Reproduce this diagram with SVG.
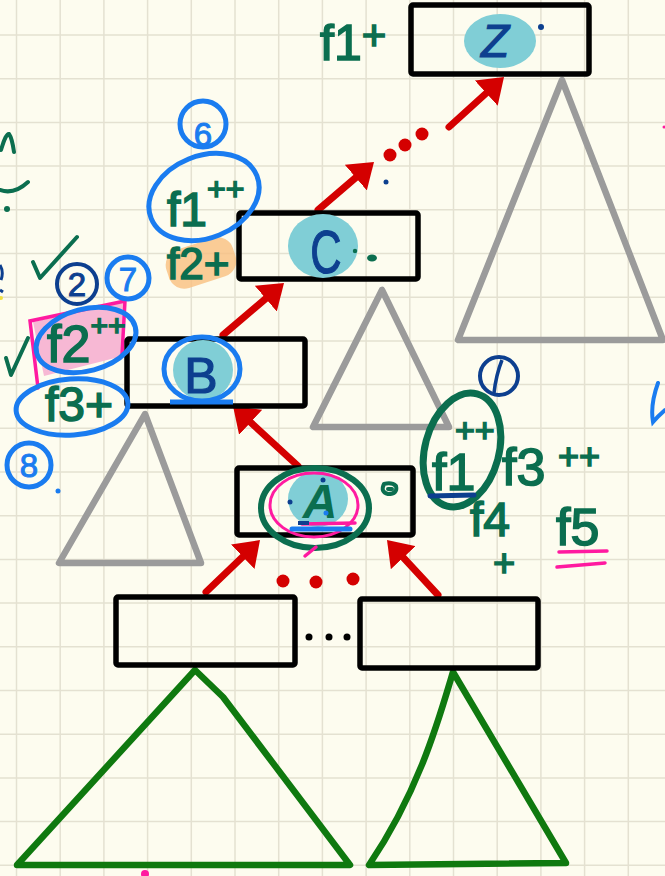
<svg xmlns="http://www.w3.org/2000/svg" width="665" height="876" viewBox="0 0 665 876">
<style>
.grid{stroke:#e4e1d1;stroke-width:1.5;fill:none}
.box{fill:none;stroke:#000;stroke-width:5.5;stroke-linejoin:round}
.gray{fill:none;stroke:#9b9b9b;stroke-width:6.5;stroke-linejoin:round}
.green{fill:none;stroke:#0f790f;stroke-width:6.5;stroke-linejoin:round}
.blob{fill:#80ced6}
.arrow{stroke:#d40000;stroke-width:7;stroke-linecap:round;fill:none}
.rdot{fill:#d40000}
.hw{font-family:"Liberation Sans",Arial,sans-serif;fill:#0b6e4f;stroke:#0b6e4f;stroke-width:1.6}
.letter{font-family:"Liberation Sans",Arial,sans-serif;fill:#0d3f8f;stroke:#0d3f8f;stroke-width:1.2;text-anchor:middle}
.bl{fill:none;stroke:#1a7cf0;stroke-width:5}
.dbl{fill:none;stroke:#0d3f8f;stroke-width:4}
.num{font-family:"Liberation Sans",Arial,sans-serif;font-size:33px;text-anchor:middle;stroke-width:1}
.gs{fill:none;stroke:#0b6e4f;stroke-width:4;stroke-linecap:round;stroke-linejoin:round}
.pk{fill:none;stroke:#ff1aa0;stroke-width:3.5;stroke-linecap:round}
</style>
<defs>
<marker id="ah" markerUnits="userSpaceOnUse" viewBox="0 0 24 34" refX="4" refY="17" markerWidth="24" markerHeight="34" orient="auto">
<path d="M0,0 L24,17 L0,34 Z" fill="#d40000"/>
</marker>
</defs>
<rect width="665" height="876" fill="#fdfcef"/>
<path class="grid" d="M16.5,0V876M60.2,0V876M103.9,0V876M147.6,0V876M191.3,0V876M235,0V876M278.7,0V876M322.4,0V876M366.1,0V876M409.8,0V876M453.5,0V876M497.2,0V876M540.9,0V876M584.6,0V876M628.3,0V876M0,35H665M0,78.7H665M0,122.4H665M0,166.1H665M0,209.8H665M0,253.5H665M0,297.2H665M0,340.9H665M0,384.6H665M0,428.3H665M0,472H665M0,515.7H665M0,559.4H665M0,603.1H665M0,646.8H665M0,690.5H665M0,734.2H665M0,777.9H665M0,821.6H665M0,865.3H665"/>

<!-- subtrees -->
<g id="subtree-Z"><path class="gray" d="M562,80 L458,340 L663,340 Z"/></g>
<g id="subtree-C"><path class="gray" d="M382,290 L313,427 L449,427 Z"/></g>
<g id="subtree-B"><path class="gray" d="M145,414 L59,563 L201,563 Z"/></g>
<g id="subtree-leaf1"><path class="green" d="M195,670 L223,697 L350,865 L17,865 Z"/></g>
<g id="subtree-leaf2"><path class="green" d="M453,672 C440,715 420,790 369,865 L566,863 Z"/></g>

<!-- highlights behind -->
<rect x="166" y="243" width="70" height="40" rx="16" transform="rotate(-18 201 263)" fill="#f9bf80" opacity="0.8"/>
<path d="M33,322 L125,302 L123,356 L44,376 Z" fill="#f7b8d4"/>
<path class="pk" d="M38,388 L30,321 L125,301 L122,355"/>

<!-- connectors -->
<g id="connectors">
<line class="arrow" x1="223" y1="335" x2="268.8" y2="296" marker-end="url(#ah)"/>
<line class="arrow" x1="318" y1="210" x2="358.8" y2="175" marker-end="url(#ah)"/>
<line class="arrow" x1="449" y1="127" x2="489.2" y2="90.5" marker-end="url(#ah)"/>
<line class="arrow" x1="206" y1="592" x2="245.6" y2="553.9" marker-end="url(#ah)"/>
<line class="arrow" x1="438" y1="595" x2="400.6" y2="554.7" marker-end="url(#ah)"/>
<line class="arrow" x1="298" y1="466" x2="247.7" y2="419.6" marker-end="url(#ah)"/>
<circle class="rdot" cx="390" cy="155" r="6.5"/>
<circle class="rdot" cx="405" cy="145" r="6.5"/>
<circle class="rdot" cx="422" cy="134" r="6.5"/>
<circle class="rdot" cx="283" cy="581" r="6.5"/>
<circle class="rdot" cx="316" cy="582" r="6.5"/>
<circle class="rdot" cx="353" cy="579" r="6.5"/>
<circle cx="309" cy="637" r="3.5"/>
<circle cx="329" cy="637" r="3.5"/>
<circle cx="347" cy="637" r="3.5"/>
</g>

<!-- nodes -->
<g id="node-Z">
<rect class="box" x="411" y="5" width="178" height="69" rx="2"/>
<ellipse class="blob" cx="500" cy="41" rx="36" ry="27"/>
<text class="letter" x="495" y="57" font-size="46" font-style="italic">Z</text>
<circle cx="541" cy="27" r="3" fill="#0d3f8f"/>
</g>
<g id="node-C">
<rect class="box" x="239" y="213" width="179" height="66" rx="2"/>
<ellipse class="blob" cx="323" cy="246" rx="35" ry="32"/>
<text class="letter" font-size="62" transform="translate(326 273) scale(0.7 1)">C</text>
<circle cx="355" cy="251" r="2.2" fill="#0b6e4f"/>
<ellipse cx="372" cy="258" rx="5" ry="3.5" fill="#0b6e4f"/>
</g>
<g id="node-B">
<rect class="box" x="127" y="339" width="178" height="67" rx="2"/>
<ellipse class="blob" cx="203" cy="370" rx="30" ry="30"/>
<ellipse class="bl" cx="202" cy="369" rx="38" ry="32"/>
<line class="bl" x1="170" y1="402" x2="233" y2="402" stroke-width="6"/>
<text class="letter" x="201" y="393" font-size="50">B</text>
</g>
<g id="node-A">
<rect class="box" x="237" y="468" width="176" height="67" rx="2"/>
<ellipse class="blob" cx="318" cy="499" rx="30" ry="28"/>
<ellipse cx="314" cy="505" rx="44" ry="32" fill="none" stroke="#ff1aa0" stroke-width="3"/>
<line class="pk" x1="302" y1="524" x2="355" y2="523"/>
<line class="bl" x1="292" y1="529" x2="350" y2="529" stroke-width="6" stroke-linecap="round"/>
<line x1="298" y1="523" x2="309" y2="523" stroke="#0d3f8f" stroke-width="4"/>
<text x="320" y="518" font-family="Liberation Sans, Arial, sans-serif" font-size="48" font-weight="bold" font-style="italic" fill="#0b6e4f" text-anchor="middle">A</text>
<ellipse cx="315" cy="508" rx="54" ry="40" fill="none" stroke="#0b6e4f" stroke-width="6"/>
<line class="pk" x1="305" y1="556" x2="316" y2="547"/>
<circle cx="323" cy="480" r="2.5" fill="#0d3f8f"/>
<circle cx="290" cy="502" r="2.5" fill="#0d3f8f"/>
<circle cx="326" cy="513" r="2.5" fill="#1a7cf0"/>
<path class="gs" d="M384,484 Q380,492 388,494 Q398,494 396,486 Q392,482 384,484 M388,489 L392,489" stroke-width="3.5"/>
</g>
<g id="node-leaf1"><rect class="box" x="116" y="597" width="179" height="68" rx="2"/></g>
<g id="node-leaf2"><rect class="box" x="360" y="599" width="178" height="69" rx="2"/></g>

<!-- annotations -->
<text class="hw" x="320" y="60" font-size="50">f1<tspan font-size="42" dy="-10">+</tspan></text>

<circle class="bl" cx="203" cy="124" r="23"/>
<text class="num" x="203" y="146" fill="#1a7cf0" stroke="#1a7cf0">6</text>
<ellipse class="bl" cx="204" cy="197" rx="57" ry="41" transform="rotate(-22 204 197)"/>
<text class="hw" x="167" y="226" font-size="48">f1<tspan font-size="32" dy="-26">++</tspan></text>
<text class="hw" x="167" y="279" font-size="44">f2+</text>

<path class="gs" d="M33,262 L40,278 L77,237"/>
<circle class="dbl" cx="77" cy="284" r="20"/>
<text class="num" x="77" y="296" fill="#0d3f8f" stroke="#0d3f8f">2</text>
<circle class="bl" cx="128" cy="278" r="21"/>
<text class="num" x="128" y="291" fill="#1a7cf0" stroke="#1a7cf0">7</text>
<ellipse class="bl" cx="86" cy="340" rx="51" ry="31" transform="rotate(-15 86 340)"/>
<text class="hw" x="47" y="362" font-size="52">f2<tspan font-size="30" dy="-26">++</tspan></text>
<ellipse class="bl" cx="72" cy="407" rx="56" ry="28" transform="rotate(-4 72 407)"/>
<text class="hw" x="45" y="421" font-size="48">f3+</text>
<circle class="bl" cx="29" cy="465" r="22"/>
<text class="num" x="29" y="477" fill="#1a7cf0" stroke="#1a7cf0">8</text>
<circle cx="58" cy="491" r="2.5" fill="#1a7cf0"/>
<circle cx="386" cy="182" r="2.5" fill="#0d3f8f"/>

<path class="gs" d="M1,150 Q6,133 9,134 Q12,138 14,152"/>
<path class="gs" d="M0,190 Q14,195 28,182"/>
<circle cx="7" cy="209" r="3" fill="#0b6e4f"/>
<path d="M0,265 Q4,272 1,280 M0,290 L3,292" fill="none" stroke="#0d3f8f" stroke-width="3"/>
<circle cx="1" cy="298" r="2" fill="#f0e040"/>
<path class="gs" d="M6,358 L11,375 L28,338"/>

<circle class="dbl" cx="499" cy="376" r="19"/>
<path d="M502,360 Q496,375 494,393" fill="none" stroke="#0d3f8f" stroke-width="3.5"/>
<ellipse cx="462" cy="450" rx="37" ry="58" transform="rotate(15 462 450)" fill="none" stroke="#0b6e4f" stroke-width="7"/>
<text class="hw" x="432" y="490" font-size="52">f1</text>
<text class="hw" x="455" y="442" font-size="34">++</text>
<line x1="430" y1="496" x2="474" y2="495" stroke="#0d3f8f" stroke-width="5" stroke-linecap="round"/>
<text class="hw" x="502" y="485" font-size="52">f3</text>
<text class="hw" x="558" y="469" font-size="36">++</text>
<text class="hw" x="470" y="536" font-size="48">f4</text>
<text class="hw" x="493" y="576" font-size="38">+</text>
<text class="hw" x="556" y="545" font-size="52">f5</text>
<line class="pk" x1="559" y1="552" x2="607" y2="551" stroke-width="4"/>
<line class="pk" x1="557" y1="567" x2="605" y2="563" stroke-width="4"/>

<path d="M658,383 Q650,405 653,422 Q658,416 665,410" fill="none" stroke="#1a7cf0" stroke-width="4" stroke-linecap="round"/>
<circle cx="664" cy="127" r="1.5" fill="#ff1aa0"/>
<circle cx="145" cy="874" r="4" fill="#ff1aa0"/>
</svg>
